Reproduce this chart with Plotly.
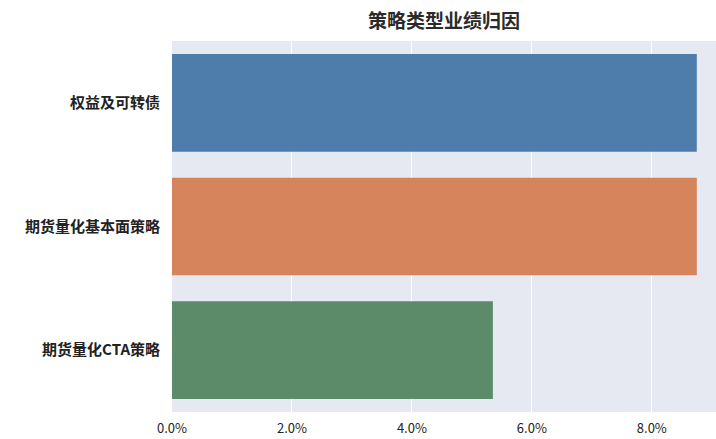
import plotly.graph_objects as go

# Strategy-type performance attribution (returns in %)
categories = ["权益及可转债", "期货量化基本面策略", "期货量化CTA策略"]
returns_pct = [8.75, 8.75, 5.35]
bar_colors = ["#4f7dab", "#d6845c", "#5b8b68"]
tick_vals = [0, 2, 4, 6, 8]
tick_text = ["0.0%", "2.0%", "4.0%", "6.0%", "8.0%"]

font_family = "Noto Sans CJK SC"

fig = go.Figure(
    go.Bar(
        x=returns_pct,
        y=categories,
        orientation="h",
        marker=dict(color=bar_colors, line=dict(width=0)),
        width=0.79,
    )
)

fig.update_layout(
    width=716,
    height=439,
    margin=dict(l=172, r=0, t=41, b=27),
    paper_bgcolor="white",
    plot_bgcolor="#e6e8f2",
    showlegend=False,
    title=dict(
        text="<b>策略类型业绩归因</b>",
        x=(172 + 716) / 2 / 716,
        xanchor="center",
        y=1 - 21 / 439,
        yanchor="middle",
        font=dict(family=font_family, size=19, color="#2a2a2a"),
    ),
    font=dict(family=font_family, size=12, color="#222222"),
)

fig.update_xaxes(
    range=[0, 9.07],
    tickvals=tick_vals,
    ticktext=tick_text,
    showgrid=True,
    gridcolor="white",
    gridwidth=1,
    zeroline=False,
    showline=False,
    ticks="",
    ticklabelstandoff=7,
    tickfont=dict(family=font_family, size=13, color="#222222"),
)

fig.update_yaxes(
    categoryorder="array",
    categoryarray=categories[::-1],
    range=[-0.5, 2.5],
    showgrid=False,
    zeroline=False,
    showline=False,
    ticks="",
    ticklabelstandoff=11,
    tickfont=dict(family=font_family, size=15, color="#222222", weight="bold"),
)

fig.write_html("out.html")
